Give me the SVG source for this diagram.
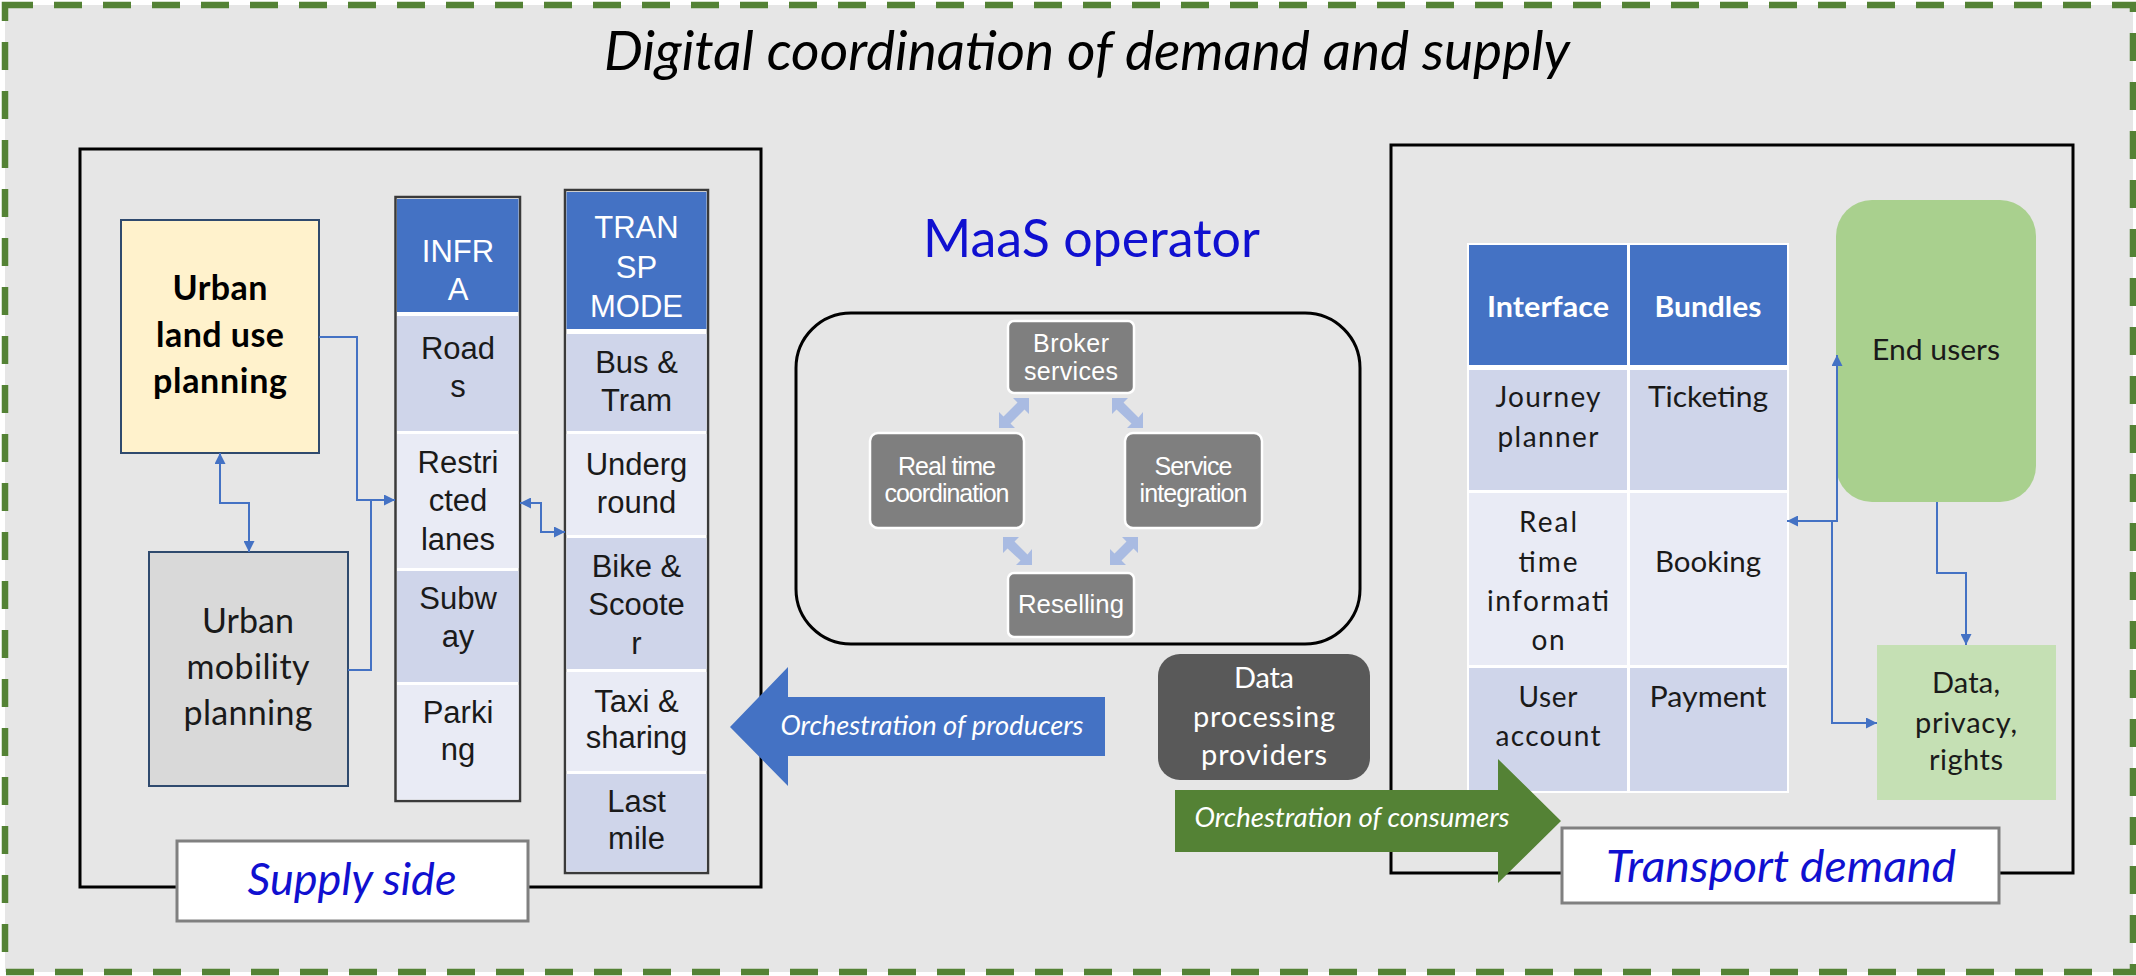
<svg xmlns="http://www.w3.org/2000/svg" width="2136" height="976" viewBox="0 0 2136 976">
<defs>
<style>
.cal{font-family:Lato,"Open Sans","Liberation Sans",sans-serif}
.ari{font-family:"Liberation Sans",Arial,sans-serif}
.col{font-size:31px;fill:#1a1a1a;text-anchor:middle}
.colh{font-size:31px;fill:#ffffff;text-anchor:middle}
.tb{font-size:28px;fill:#1a1a1a;text-anchor:middle}
.mbox{fill:#7f7f7f;stroke:#ffffff;stroke-width:2.5}
.mtxt{font-size:25px;fill:#ffffff;text-anchor:middle}
.conn{fill:none;stroke:#4472c4;stroke-width:2}
.lbarrow{fill:#a9bbe2}
.lbl{font-style:italic;fill:#1010d0;text-anchor:middle}
.frame{fill:none;stroke:#000;stroke-width:3}
</style>
<marker id="ab" markerUnits="userSpaceOnUse" markerWidth="11" markerHeight="11" viewBox="0 0 10 10" refX="10" refY="5" orient="auto-start-reverse"><path d="M0,0 L10,5 L0,10 z" fill="#4472c4"/></marker>
</defs>

<rect x="0" y="0" width="2136" height="976" fill="#ffffff"/>
<g id="outer">
<rect x="5" y="5" width="2128" height="967" fill="#e6e6e6" stroke="#548235" stroke-width="6.5" stroke-dasharray="28 21"/>
<text class="cal" x="1087" y="70" font-size="54" font-style="italic" text-anchor="middle" fill="#000" textLength="966" lengthAdjust="spacingAndGlyphs">Digital coordination of demand and supply</text>
</g>

<g id="supply-side">
<rect class="frame" x="80" y="149" width="681" height="738"/>
</g>
<g id="transport-demand-frame">
<rect class="frame" x="1391" y="145" width="682" height="728"/>
</g>

<g id="land-use">
<rect x="121" y="220" width="198" height="233" fill="#fff2cc" stroke="#2f4a6e" stroke-width="2"/>
<text class="cal" font-size="34" font-weight="bold" text-anchor="middle" fill="#000" lengthAdjust="spacingAndGlyphs"><tspan x="220" y="300" textLength="95">Urban</tspan><tspan x="220" y="347" textLength="128">land use</tspan><tspan x="220" y="393" textLength="134">planning</tspan></text>
</g>

<g id="mobility">
<rect x="149" y="552" width="199" height="234" fill="#d9d9d9" stroke="#2f4a6e" stroke-width="2"/>
<text class="cal" font-size="34" text-anchor="middle" fill="#1a1a1a"><tspan x="248" y="633" textLength="92">Urban</tspan><tspan x="248" y="679" textLength="123">mobility</tspan><tspan x="248" y="725" textLength="129">planning</tspan></text>
</g>

<g id="infra">
<rect x="395.5" y="197" width="124.5" height="604" fill="#ffffff" stroke="#3a3a3a" stroke-width="2.5"/>
<rect x="397" y="199" width="121.5" height="113" fill="#4472c4"/>
<rect x="397" y="316" width="121.5" height="115" fill="#cfd5ea"/>
<rect x="397" y="434" width="121.5" height="134" fill="#e9ebf5"/>
<rect x="397" y="571" width="121.5" height="111" fill="#cfd5ea"/>
<rect x="397" y="685" width="121.5" height="114.5" fill="#e9ebf5"/>
<text class="ari colh"><tspan x="458" y="262">INFR</tspan><tspan x="458" y="300">A</tspan></text>
<text class="ari col"><tspan x="458" y="359">Road</tspan><tspan x="458" y="397">s</tspan></text>
<text class="ari col"><tspan x="458" y="473">Restri</tspan><tspan x="458" y="511">cted</tspan><tspan x="458" y="550">lanes</tspan></text>
<text class="ari col"><tspan x="458" y="609">Subw</tspan><tspan x="458" y="647">ay</tspan></text>
<text class="ari col"><tspan x="458" y="723">Parki</tspan><tspan x="458" y="760">ng</tspan></text>
</g>

<g id="transp">
<rect x="565" y="190" width="143" height="683" fill="#ffffff" stroke="#3a3a3a" stroke-width="2.5"/>
<rect x="566.5" y="192" width="140" height="137" fill="#4472c4"/>
<rect x="566.5" y="334" width="140" height="97" fill="#cfd5ea"/>
<rect x="566.5" y="434" width="140" height="101" fill="#e9ebf5"/>
<rect x="566.5" y="538" width="140" height="131" fill="#cfd5ea"/>
<rect x="566.5" y="672" width="140" height="99" fill="#e9ebf5"/>
<rect x="566.5" y="774" width="140" height="97.5" fill="#cfd5ea"/>
<text class="ari colh"><tspan x="636.5" y="238">TRAN</tspan><tspan x="636.5" y="278">SP</tspan><tspan x="636.5" y="317">MODE</tspan></text>
<text class="ari col"><tspan x="636.5" y="373">Bus &amp;</tspan><tspan x="636.5" y="411">Tram</tspan></text>
<text class="ari col"><tspan x="636.5" y="475">Underg</tspan><tspan x="636.5" y="513">round</tspan></text>
<text class="ari col"><tspan x="636.5" y="577">Bike &amp;</tspan><tspan x="636.5" y="615">Scoote</tspan><tspan x="636.5" y="654">r</tspan></text>
<text class="ari col"><tspan x="636.5" y="712">Taxi &amp;</tspan><tspan x="636.5" y="748">sharing</tspan></text>
<text class="ari col"><tspan x="636.5" y="812">Last</tspan><tspan x="636.5" y="849">mile</tspan></text>
</g>

<g id="supply-label">
<rect x="177" y="841" width="351" height="80" fill="#ffffff" stroke="#808080" stroke-width="3"/>
<text class="cal lbl" x="352" y="895" font-size="44" textLength="209" lengthAdjust="spacingAndGlyphs">Supply side</text>
</g>

<g id="maas">
<text class="cal" x="1091.5" y="257" font-size="52" text-anchor="middle" fill="#1010d0" textLength="337" lengthAdjust="spacingAndGlyphs">MaaS operator</text>
<rect x="796" y="313" width="564" height="331" rx="55" ry="55" fill="none" stroke="#000" stroke-width="3"/>
</g>
<g id="broker">
<rect class="mbox" x="1008" y="321" width="126" height="72" rx="6"/>
<text class="ari mtxt" lengthAdjust="spacingAndGlyphs"><tspan x="1071" y="352" textLength="76">Broker</tspan><tspan x="1071" y="380" textLength="94">services</tspan></text>
</g>
<g id="realtime">
<rect class="mbox" x="870" y="433" width="154" height="95" rx="8"/>
<text class="ari mtxt" lengthAdjust="spacingAndGlyphs"><tspan x="947" y="475" textLength="98">Real time</tspan><tspan x="947" y="502" textLength="125">coordination</tspan></text>
</g>
<g id="integration">
<rect class="mbox" x="1125" y="433" width="137" height="95" rx="8"/>
<text class="ari mtxt" lengthAdjust="spacingAndGlyphs"><tspan x="1193.5" y="475" textLength="78">Service</tspan><tspan x="1193.5" y="502" textLength="108">integration</tspan></text>
</g>
<g id="reselling">
<rect class="mbox" x="1008" y="573" width="126" height="64" rx="6"/>
<text class="ari mtxt" x="1071" y="613" textLength="106" lengthAdjust="spacingAndGlyphs">Reselling</text>
</g>

<g id="data-processing">
<rect x="1158" y="654" width="212" height="126" rx="22" fill="#595959"/>
<text class="cal" font-size="29" text-anchor="middle" fill="#ffffff" lengthAdjust="spacingAndGlyphs"><tspan x="1264" y="688" textLength="60">Data</tspan><tspan x="1264" y="727" textLength="142">processing</tspan><tspan x="1264" y="765" textLength="126">providers</tspan></text>
</g>

<g id="producers-arrow">
<polygon points="730,727 788,667 788,697 1105,697 1105,756 788,756 788,786" fill="#4472c4"/>
<text class="cal" x="932" y="735" font-size="27" font-style="italic" text-anchor="middle" fill="#ffffff" textLength="303" lengthAdjust="spacingAndGlyphs">Orchestration of producers</text>
</g>

<g id="table">
<rect x="1467" y="243" width="322" height="550" fill="#ffffff"/>
<rect x="1469" y="245" width="158" height="120" fill="#4472c4"/>
<rect x="1630" y="245" width="157" height="120" fill="#4472c4"/>
<rect x="1469" y="370" width="158" height="120" fill="#cfd5ea"/>
<rect x="1630" y="370" width="157" height="120" fill="#cfd5ea"/>
<rect x="1469" y="493" width="158" height="172" fill="#e9ebf5"/>
<rect x="1630" y="493" width="157" height="172" fill="#e9ebf5"/>
<rect x="1469" y="668" width="158" height="123" fill="#cfd5ea"/>
<rect x="1630" y="668" width="157" height="123" fill="#cfd5ea"/>
<text class="cal" x="1548" y="317" font-size="28" font-weight="bold" text-anchor="middle" fill="#ffffff" textLength="122" lengthAdjust="spacingAndGlyphs">Interface</text>
<text class="cal" x="1708" y="317" font-size="28" font-weight="bold" text-anchor="middle" fill="#ffffff" textLength="107" lengthAdjust="spacingAndGlyphs">Bundles</text>
<text class="cal tb" lengthAdjust="spacingAndGlyphs"><tspan x="1548" y="407" textLength="105">Journey</tspan><tspan x="1548" y="447" textLength="101">planner</tspan></text>
<text class="cal tb" x="1708" y="407" textLength="120" lengthAdjust="spacingAndGlyphs">Ticketing</text>
<text class="cal tb" lengthAdjust="spacingAndGlyphs"><tspan x="1548" y="532" textLength="58">Real</tspan><tspan x="1548" y="572" textLength="59">time</tspan><tspan x="1548" y="611" textLength="122">informati</tspan><tspan x="1548" y="650" textLength="33">on</tspan></text>
<text class="cal tb" x="1708" y="572" textLength="106" lengthAdjust="spacingAndGlyphs">Booking</text>
<text class="cal tb" lengthAdjust="spacingAndGlyphs"><tspan x="1548" y="707" textLength="59">User</tspan><tspan x="1548" y="746" textLength="105">account</tspan></text>
<text class="cal tb" x="1708" y="707" textLength="117" lengthAdjust="spacingAndGlyphs">Payment</text>
</g>

<g id="end-users">
<rect x="1836" y="200" width="200" height="302" rx="36" fill="#a9d08e"/>
<text class="cal" x="1936" y="360" font-size="29" text-anchor="middle" fill="#1a1a1a" textLength="128" lengthAdjust="spacingAndGlyphs">End users</text>
</g>

<g id="data-privacy">
<rect x="1877" y="645" width="179" height="155" fill="#c5e0b4"/>
<text class="cal" font-size="29" text-anchor="middle" fill="#1a1a1a" lengthAdjust="spacingAndGlyphs"><tspan x="1966" y="693" textLength="68">Data,</tspan><tspan x="1966" y="733" textLength="102">privacy,</tspan><tspan x="1966" y="770" textLength="74">rights</tspan></text>
</g>

<g id="consumers-arrow">
<polygon points="1175,790 1498,790 1498,759 1561,821 1498,883 1498,852 1175,852" fill="#548235"/>
<text class="cal" x="1352" y="827" font-size="27" font-style="italic" text-anchor="middle" fill="#ffffff" textLength="315" lengthAdjust="spacingAndGlyphs">Orchestration of consumers</text>
</g>

<g id="demand-label">
<rect x="1562" y="828" width="437" height="75" fill="#ffffff" stroke="#808080" stroke-width="3"/>
<text class="cal lbl" x="1781" y="882" font-size="44" textLength="350" lengthAdjust="spacingAndGlyphs">Transport demand</text>
</g>

<g id="connectors">
<path class="conn" d="M319,337 H357 V500 H395" marker-end="url(#ab)"/>
<path class="conn" d="M348,670 H371 V500"/>
<path class="conn" d="M220,453 V503 H249 V552" marker-start="url(#ab)" marker-end="url(#ab)"/>
<path class="conn" d="M520,503 H541 V532 H565" marker-start="url(#ab)" marker-end="url(#ab)"/>
<path class="conn" d="M1787,521 H1837 V355" marker-start="url(#ab)" marker-end="url(#ab)"/>
<path class="conn" d="M1832,521 V723 H1877" marker-end="url(#ab)"/>
<path class="conn" d="M1937,502 V573 H1966 V645" marker-end="url(#ab)"/>
<polygon class="lbarrow" points="1029,398 1029,414 1024.5,409.5 1010.5,423.5 1015,428 999,428 999,412 1003.5,416.5 1017.5,402.5 1013,398"/>
<polygon class="lbarrow" points="1112,398 1128,398 1123.5,402.5 1138.5,417.5 1143,412 1143,428 1127,428 1131.5,423.5 1116.5,409.5 1112,414"/>
<polygon class="lbarrow" points="1003,537 1019,537 1014.5,541.5 1027.5,554.5 1032,549 1032,565 1016,565 1020.5,560.5 1007.5,548.5 1003,553"/>
<polygon class="lbarrow" points="1138,537 1138,553 1133.5,548.5 1121.5,560.5 1126,565 1110,565 1110,549 1114.5,553.5 1126.5,541.5 1122,537"/>
</g>
</svg>
